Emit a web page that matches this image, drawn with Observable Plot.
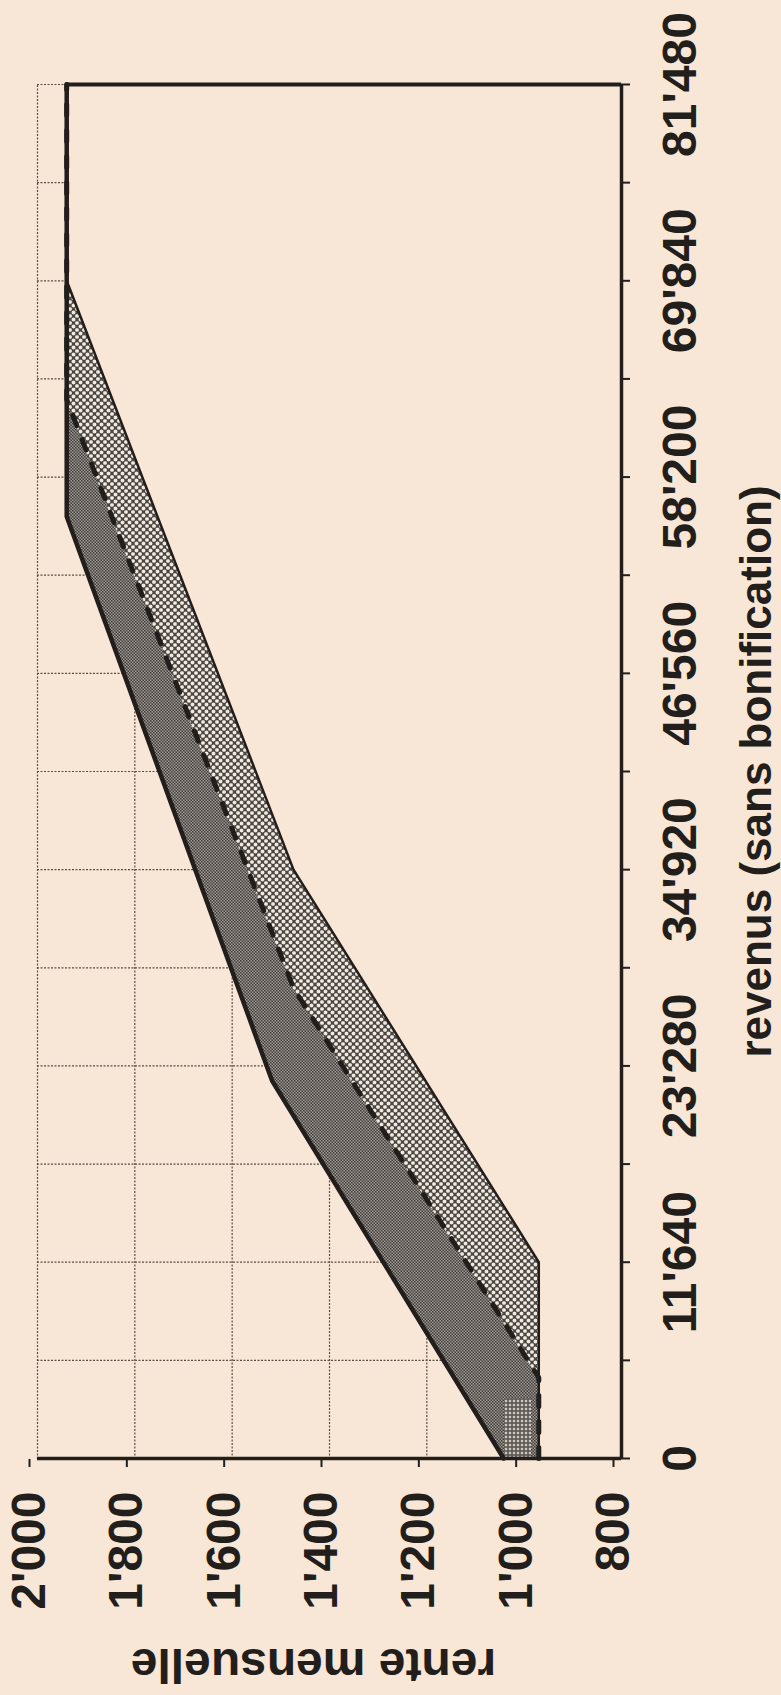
<!DOCTYPE html>
<html><head><meta charset="utf-8">
<script src="https://cdn.jsdelivr.net/npm/d3@7"></script>
<script src="https://cdn.jsdelivr.net/npm/@observablehq/plot@0.6"></script>
<style>
html,body{margin:0;padding:0;background:#f8e7d6;}
#wrap{position:relative;width:781px;height:1695px;overflow:hidden;background:#f8e7d6;}
#wrap > svg{position:absolute;left:0;top:0;max-width:none !important;width:1695px !important;height:781px !important;transform-origin:0 0;transform:translate(0px,1695px) rotate(-90deg);}
</style></head><body><div id="wrap"></div>
<script>
// ---- data ----
// upper curve (solid thick)
const aX = [0, 22400, 55860, 81480];
const aY = [1042, 1518, 1940, 1940];
// middle curve (dashed)
const bX = [0, 4800, 27900, 62800, 81480];
const bY = [970, 970, 1474, 1940, 1940];
// lower curve (thin solid) : rente sans bonification
const cX = [0, 11640, 34920, 69840, 81480];
const cY = [970, 970, 1474, 1940, 1940];
// small hatched patch near the origin
const patchX = [0, 3600];
const patchY = [985, 1040];
// ticks
const xLabelTicks = [0, 11640, 23280, 34920, 46560, 58200, 69840, 81480];
const xLabels = ["0", "11'640", "23'280", "34'920", "46'560", "58'200", "69'840", "81'480"];
const xMinorTicks = [5820, 17460, 29100, 40740, 52380, 64020, 75660];
const yTicks = [800, 1000, 1200, 1400, 1600, 1800, 2000];
const yLabels = ["800", "1'000", "1'200", "1'400", "1'600", "1'800", "2'000"];
const xTitle = "revenus (sans bonification)";
const yTitle = "rente mensuelle";

const bg = "#f8e7d6";
const ink = "#221e1c";
const gridColor = "#5b4d44";
const rows = (xs, ys) => xs.map((x, i) => ({x, y: ys[i]}));
const A = rows(aX, aY), B = rows(bX, bY), C = rows(cX, cY);
const xAll = [...xLabelTicks, ...xMinorTicks].sort((p, q) => p - q);
const xLab = new Map(xLabelTicks.map((v, i) => [v, xLabels[i]]));
const yLab = new Map(yTicks.map((v, i) => [v, yLabels[i]]));
const yMin = yTicks[0];
const font = "'Liberation Sans', Arial, Helvetica, sans-serif";

const chart = Plot.plot({
  width: 1695, height: 781,
  marginLeft: 236, marginRight: 85, marginTop: 37, marginBottom: 160,
  style: {background: "transparent", color: ink, fontFamily: font, overflow: "visible", maxWidth: "none"},
  x: {domain: [xLabelTicks[0], xLabelTicks[xLabelTicks.length - 1]]},
  y: {domain: [yTicks[0], yTicks[yTicks.length - 1]]},
  marks: [
    Plot.ruleX(xAll, {stroke: gridColor, strokeWidth: 1.2, strokeDasharray: "2,1.5"}),
    Plot.ruleY(yTicks, {stroke: gridColor, strokeWidth: 1.2, strokeDasharray: "2,1.5"}),
    Plot.areaY(A, {x: "x", y1: yMin, y2: "y", fill: "url(#patFine)"}),
    Plot.areaY(B, {x: "x", y1: yMin, y2: "y", fill: "url(#patDots)"}),
    Plot.areaY(C, {x: "x", y1: yMin, y2: "y", fill: bg}),
    Plot.rect([{x1: patchX[0], x2: patchX[1], y1: patchY[0], y2: patchY[1]}], {x1: "x1", x2: "x2", y1: "y1", y2: "y2", fill: "url(#patGrid)"}),
    Plot.line(C, {x: "x", y: "y", stroke: ink, strokeWidth: 2.5}),
    Plot.line(B, {x: "x", y: "y", stroke: ink, strokeWidth: 5, strokeDasharray: "11,15"}),
    Plot.line(A, {x: "x", y: "y", stroke: ink, strokeWidth: 4.5}),
    Plot.ruleX([aX[aX.length - 1]], {y1: yMin, y2: aY[aY.length - 1], stroke: ink, strokeWidth: 4}),
    Plot.ruleY([yMin], {stroke: ink, strokeWidth: 3.5}),
    Plot.ruleX([xLabelTicks[0]], {stroke: ink, strokeWidth: 3.5}),
    Plot.axisX({ticks: xAll, tickFormat: d => xLab.get(d) ?? "", tickSize: 9, tickPadding: 31,
      fontSize: 48, fontWeight: "bold", strokeWidth: 2, label: null}),
    Plot.axisY({ticks: yTicks, tickFormat: d => yLab.get(d) ?? "", tickSize: 8, tickPadding: 25,
      fontSize: 48, fontWeight: "bold", strokeWidth: 2, dy: -8, label: null}),
    Plot.text([xTitle], {frameAnchor: "bottom", dy: 135, fontSize: 44, fontWeight: "bold", lineAnchor: "middle", textAnchor: "middle"}),
    Plot.text([yTitle], {frameAnchor: "left", dx: -206, dy: -16, rotate: -90, fontSize: 48, fontWeight: "bold", lineAnchor: "middle", textAnchor: "middle"})
  ]
});

const defs = d3.select(chart).insert("defs", ":first-child");
// fine dark dither
const pf = defs.append("pattern").attr("id", "patFine").attr("patternUnits", "userSpaceOnUse").attr("width", 3).attr("height", 3);
pf.append("rect").attr("width", 3).attr("height", 3).attr("fill", "#3e3a38");
pf.append("rect").attr("x", 0).attr("y", 0).attr("width", 1.5).attr("height", 1.5).attr("fill", "#a39d97");
pf.append("rect").attr("x", 1.5).attr("y", 1.5).attr("width", 1.5).attr("height", 1.5).attr("fill", "#a39d97");
// coarse light dots on dark
const pd = defs.append("pattern").attr("id", "patDots").attr("patternUnits", "userSpaceOnUse").attr("width", 7).attr("height", 7);
pd.append("rect").attr("width", 7).attr("height", 7).attr("fill", "#4a4644");
for (const [cx, cy] of [[0,0],[7,0],[0,7],[7,7],[3.5,3.5]]) {
  pd.append("circle").attr("cx", cx).attr("cy", cy).attr("r", 1.9).attr("fill", "#f1e8de");
}
// small grid patch
const pg = defs.append("pattern").attr("id", "patGrid").attr("patternUnits", "userSpaceOnUse").attr("width", 4).attr("height", 4);
pg.append("rect").attr("width", 4).attr("height", 4).attr("fill", "#5a5653");
pg.append("rect").attr("x", 0.8).attr("y", 0.8).attr("width", 2.4).attr("height", 2.4).attr("fill", "#cfc7bf");

document.getElementById("wrap").appendChild(chart);
</script>
</body></html>
